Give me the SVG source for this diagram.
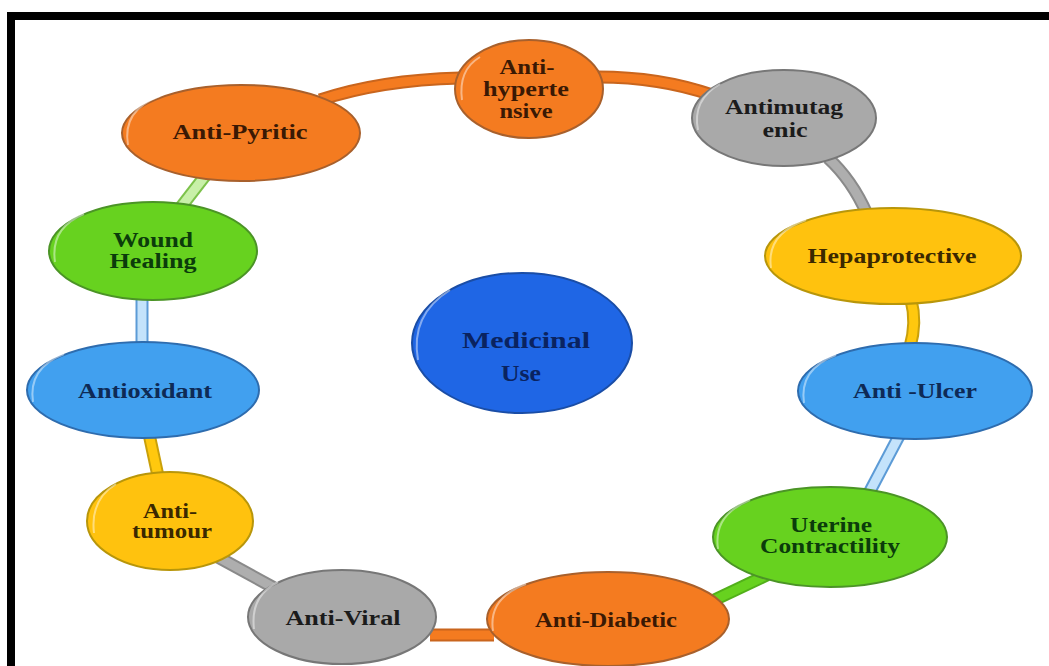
<svg xmlns="http://www.w3.org/2000/svg" width="1049" height="666" viewBox="0 0 1049 666">
<style>
.t{font-family:"Liberation Serif","Times New Roman",serif;font-weight:bold;font-size:20px;text-anchor:middle}
.big{font-size:23px}
.n{stroke-width:2}
.or{fill:#F47B20;stroke:#A8602C}
.gr{fill:#A9A9A9;stroke:#777}
.ye{fill:#FFC20E;stroke:#B8960A}
.bl{fill:#41A0EF;stroke:#2E6CAE}
.gn{fill:#67D21F;stroke:#4B9426}
.cb{fill:#1F66E5;stroke:#1A4DA6}
.tor{fill:#3a1904}.tgr{fill:#1b1b1b}.tye{fill:#3b2800}.tbl{fill:#0e2a56}.tgn{fill:#0b3c0b}.tcb{fill:#0a2360}
.hl{fill:none;stroke:#fff;stroke-opacity:.45;stroke-width:2}
.co{fill:none;stroke-width:13;stroke-linecap:butt}
.ci{fill:none;stroke-width:9;stroke-linecap:butt}
</style>
<rect x="0" y="0" width="1049" height="666" fill="#fff"/>
<rect x="7" y="12" width="1042" height="8" fill="#000"/>
<rect x="7" y="12" width="8" height="654" fill="#000"/>
<g id="connectors">
  <path class="co" stroke="#C9651D" d="M 320,100 Q 380,80 460,78"/>
  <path class="ci" stroke="#F47B20" d="M 320,100 Q 380,80 460,78"/>
  <path class="co" stroke="#C9651D" d="M 598,77 Q 660,77 712,95"/>
  <path class="ci" stroke="#F47B20" d="M 598,77 Q 660,77 712,95"/>
  <path class="co" stroke="#8A8A8A" d="M 828,158 Q 852,180 867,214"/>
  <path class="ci" stroke="#AEAEAE" d="M 828,158 Q 852,180 867,214"/>
  <path class="co" stroke="#C9A00A" d="M 911,300 Q 917,322 910,347"/>
  <path class="ci" stroke="#FFC80E" d="M 911,300 Q 917,322 910,347"/>
  <path class="co" stroke="#5C9BD6" d="M 899,436 L 869,493"/>
  <path class="ci" stroke="#C4E3FB" d="M 899,436 L 869,493"/>
  <path class="co" stroke="#52B01A" d="M 767,575 L 710,602"/>
  <path class="ci" stroke="#67D21F" d="M 767,575 L 710,602"/>
  <path class="co" stroke="#C9651D" d="M 494,635 L 430,635"/>
  <path class="ci" stroke="#F47B20" d="M 494,635 L 430,635"/>
  <path class="co" stroke="#8A8A8A" d="M 278,590 L 216,556"/>
  <path class="ci" stroke="#AEAEAE" d="M 278,590 L 216,556"/>
  <path class="co" stroke="#C9A00A" d="M 158,476 L 149,434"/>
  <path class="ci" stroke="#FFC80E" d="M 158,476 L 149,434"/>
  <path class="co" stroke="#5C9BD6" d="M 142,346 L 142,296"/>
  <path class="ci" stroke="#C4E3FB" d="M 142,346 L 142,296"/>
  <path class="co" stroke="#7CC24A" d="M 181,207 L 205,176"/>
  <path class="ci" stroke="#C8F0A8" d="M 181,207 L 205,176"/>
</g>
<g id="anti-hypertensive">
  <ellipse class="n or" cx="529" cy="89" rx="74" ry="49"/>
  <path class="hl" d="M 462,100 Q 458,70 480,57"/>
  <text class="t tor" x="527" y="74" textLength="55" lengthAdjust="spacingAndGlyphs">Anti-</text>
  <text class="t tor" x="526" y="96" textLength="86" lengthAdjust="spacingAndGlyphs">hyperte</text>
  <text class="t tor" x="526" y="118" textLength="53" lengthAdjust="spacingAndGlyphs">nsive</text>
</g>
<g id="anti-pyritic">
  <ellipse class="n or" cx="241" cy="133" rx="119" ry="48"/>
  <path class="hl" d="M 128,145 Q 122,110 160,96"/>
  <text class="t tor" x="240" y="139" textLength="135" lengthAdjust="spacingAndGlyphs">Anti-Pyritic</text>
</g>
<g id="antimutagenic">
  <ellipse class="n gr" cx="784" cy="118" rx="92" ry="48"/>
  <path class="hl" d="M 698,130 Q 692,100 720,84"/>
  <text class="t tgr" x="784" y="114" textLength="118" lengthAdjust="spacingAndGlyphs">Antimutag</text>
  <text class="t tgr" x="785" y="137" textLength="45" lengthAdjust="spacingAndGlyphs">enic</text>
</g>
<g id="hepaprotective">
  <ellipse class="n ye" cx="893" cy="256" rx="128" ry="48"/>
  <path class="hl" d="M 771,268 Q 766,234 806,220"/>
  <text class="t tye" x="892" y="263" textLength="169" lengthAdjust="spacingAndGlyphs">Hepaprotective</text>
</g>
<g id="wound-healing">
  <ellipse class="n gn" cx="153" cy="251" rx="104" ry="49"/>
  <path class="hl" d="M 55,262 Q 50,228 84,214"/>
  <text class="t tgn" x="153" y="247" textLength="80" lengthAdjust="spacingAndGlyphs">Wound</text>
  <text class="t tgn" x="153" y="268" textLength="87" lengthAdjust="spacingAndGlyphs">Healing</text>
</g>
<g id="medicinal-use">
  <ellipse class="n cb" cx="522" cy="343" rx="110" ry="70"/>
  <path class="hl" d="M 418,360 Q 410,315 450,290"/>
  <text class="t big tcb" x="526" y="348" textLength="128" lengthAdjust="spacingAndGlyphs">Medicinal</text>
  <text class="t big tcb" x="521" y="381" textLength="40" lengthAdjust="spacingAndGlyphs">Use</text>
</g>
<g id="antioxidant">
  <ellipse class="n bl" cx="143" cy="390" rx="116" ry="48"/>
  <path class="hl" d="M 33,402 Q 28,368 64,354"/>
  <text class="t tbl" x="145" y="398" textLength="134" lengthAdjust="spacingAndGlyphs">Antioxidant</text>
</g>
<g id="anti-ulcer">
  <ellipse class="n bl" cx="915" cy="391" rx="117" ry="48"/>
  <path class="hl" d="M 804,403 Q 799,369 836,355"/>
  <text class="t tbl" x="915" y="398" textLength="124" lengthAdjust="spacingAndGlyphs">Anti -Ulcer</text>
</g>
<g id="anti-tumour">
  <ellipse class="n ye" cx="170" cy="521" rx="83" ry="49"/>
  <path class="hl" d="M 94,533 Q 90,500 116,484"/>
  <text class="t tye" x="170" y="518" textLength="54" lengthAdjust="spacingAndGlyphs">Anti-</text>
  <text class="t tye" x="172" y="538" textLength="80" lengthAdjust="spacingAndGlyphs">tumour</text>
</g>
<g id="uterine-contractility">
  <ellipse class="n gn" cx="830" cy="537" rx="117" ry="50"/>
  <path class="hl" d="M 718,549 Q 713,515 750,500"/>
  <text class="t tgn" x="831" y="532" textLength="82" lengthAdjust="spacingAndGlyphs">Uterine</text>
  <text class="t tgn" x="830" y="553" textLength="140" lengthAdjust="spacingAndGlyphs">Contractility</text>
</g>
<g id="anti-viral">
  <ellipse class="n gr" cx="342" cy="617" rx="94" ry="47"/>
  <path class="hl" d="M 254,629 Q 250,596 278,582"/>
  <text class="t tgr" x="343" y="625" textLength="115" lengthAdjust="spacingAndGlyphs">Anti-Viral</text>
</g>
<g id="anti-diabetic">
  <ellipse class="n or" cx="608" cy="619" rx="121" ry="47"/>
  <path class="hl" d="M 493,631 Q 488,598 526,584"/>
  <text class="t tor" x="606" y="627" textLength="142" lengthAdjust="spacingAndGlyphs">Anti-Diabetic</text>
</g>
</svg>
